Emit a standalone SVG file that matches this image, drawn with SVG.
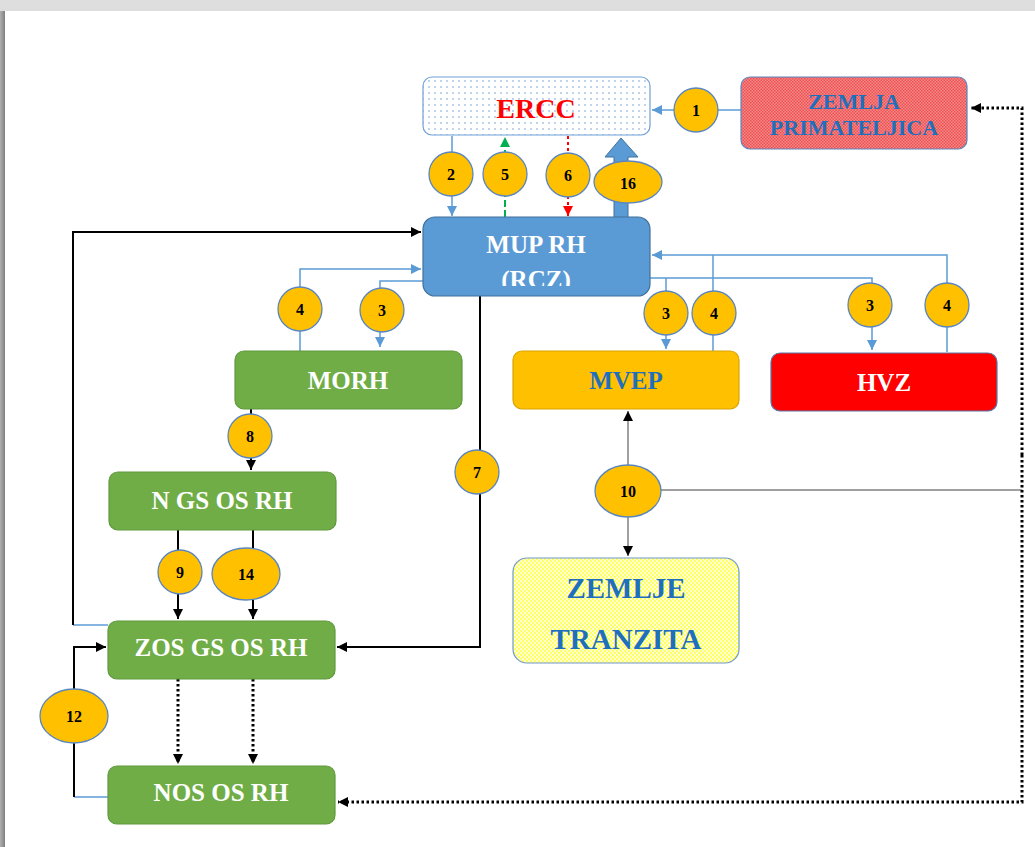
<svg xmlns="http://www.w3.org/2000/svg" width="1035" height="847" viewBox="0 0 1035 847">
<defs>
<linearGradient id="gTop" x1="0" y1="0" x2="0" y2="1"><stop offset="0" stop-color="#dedede"/><stop offset="1" stop-color="#959595"/></linearGradient>
<linearGradient id="gLeft" x1="0" y1="0" x2="1" y2="0"><stop offset="0" stop-color="#b0b0b0"/><stop offset="1" stop-color="#808080"/></linearGradient>
<pattern id="pDots" width="6" height="6" patternUnits="userSpaceOnUse"><rect width="6" height="6" fill="#ffffff"/><circle cx="3" cy="3" r="0.8" fill="#6fa0d8"/></pattern>
<pattern id="pRed" width="3" height="3" patternUnits="userSpaceOnUse"><rect width="3" height="3" fill="#f38a8a"/><rect width="1.5" height="1.5" fill="#f05050"/><rect x="1.5" y="1.5" width="1.5" height="1.5" fill="#f05050"/></pattern>
<pattern id="pYel" width="4" height="4" patternUnits="userSpaceOnUse"><rect width="4" height="4" fill="#ffff66"/><rect width="2" height="2" fill="#ffffd0"/><rect x="2" y="2" width="2" height="2" fill="#ffffd0"/></pattern>
<clipPath id="cMup"><rect x="423" y="217" width="227" height="69"/></clipPath>
<marker id="aBlue" markerUnits="userSpaceOnUse" markerWidth="12" markerHeight="12" refX="10" refY="5" orient="auto"><path d="M0,0 L10,5 L0,10 Z" fill="#5b9bd5"/></marker>
<marker id="aBlack" markerUnits="userSpaceOnUse" markerWidth="12" markerHeight="12" refX="10" refY="5" orient="auto"><path d="M0,0 L10,5 L0,10 Z" fill="#000000"/></marker>
<marker id="aGreen" markerUnits="userSpaceOnUse" markerWidth="12" markerHeight="12" refX="10" refY="5" orient="auto"><path d="M0,0 L10,5 L0,10 Z" fill="#00b050"/></marker>
<marker id="aRed" markerUnits="userSpaceOnUse" markerWidth="12" markerHeight="12" refX="10" refY="5" orient="auto"><path d="M0,0 L10,5 L0,10 Z" fill="#ff0000"/></marker>
</defs>
<style>
.box{stroke-width:1.2}
.t{font-family:"Liberation Serif","Times New Roman",serif;font-weight:bold;text-anchor:middle}
.w{fill:#ffffff;font-size:25px}
.b{fill:#1f6fbf}
.num{font-family:"Liberation Serif","Times New Roman",serif;font-weight:bold;font-size:16px;text-anchor:middle;fill:#000}
.c{fill:#ffc000;stroke:#5a86c0;stroke-width:1.3}
.lb{fill:none;stroke:#5b9bd5;stroke-width:1.5}
.lk{fill:none;stroke:#000;stroke-width:2}
.ld{fill:none;stroke:#000;stroke-width:3;stroke-dasharray:2.5 2.5}
.lg{fill:none;stroke:#808080;stroke-width:1.5}
</style>
<rect width="1035" height="847" fill="url(#gTop)"/>
<rect x="0" y="11" width="5" height="836" fill="url(#gLeft)"/>
<rect x="5" y="11" width="1030" height="836" fill="#ffffff"/>

<g id="connectors">
<line class="lb" x1="741" y1="110" x2="652" y2="110" marker-end="url(#aBlue)"/>
<line class="lb" x1="452" y1="136" x2="452" y2="216" marker-end="url(#aBlue)"/>
<line x1="505" y1="217" x2="505" y2="137" stroke="#00b050" stroke-width="2" stroke-dasharray="7 3" marker-end="url(#aGreen)"/>
<line x1="568" y1="136" x2="568" y2="216" stroke="#ff0000" stroke-width="2" stroke-dasharray="3 3" marker-end="url(#aRed)"/>
<polygon points="614,218 614,157 605,157 621,138 638,157 628,157 628,218" fill="#5b9bd5" stroke="#41719c" stroke-width="1"/>
<polyline class="lb" points="300,351 300,269 421,269" marker-end="url(#aBlue)"/>
<polyline class="lb" points="423,281 380,281 380,347" marker-end="url(#aBlue)"/>
<polyline class="lb" points="947,352 947,255 652,255" marker-end="url(#aBlue)"/>
<line class="lb" x1="713" y1="351" x2="713" y2="255"/>
<polyline class="lb" points="649,278 872,278 872,350" marker-end="url(#aBlue)"/>
<line class="lb" x1="666" y1="278" x2="666" y2="349" marker-end="url(#aBlue)"/>
<line class="lk" x1="251" y1="409" x2="251" y2="470" marker-end="url(#aBlack)"/>
<polyline class="lk" points="480,296 480,647 337,647" marker-end="url(#aBlack)"/>
<line class="lk" x1="178" y1="530" x2="178" y2="619" marker-end="url(#aBlack)"/>
<line class="lk" x1="253" y1="530" x2="253" y2="619" marker-end="url(#aBlack)"/>
<line class="lb" x1="108" y1="625" x2="73" y2="625"/>
<polyline class="lk" points="73,625 73,232 421,232" marker-end="url(#aBlack)"/>
<line class="lb" x1="108" y1="797" x2="74" y2="797"/>
<polyline class="lk" points="74,797 74,647 106,647" marker-end="url(#aBlack)"/>
<line class="ld" x1="178" y1="679" x2="178" y2="764" marker-end="url(#aBlack)"/>
<line class="ld" x1="253" y1="679" x2="253" y2="764" marker-end="url(#aBlack)"/>
<line class="lg" x1="628" y1="490" x2="628" y2="411" marker-end="url(#aBlack)"/>
<line class="lg" x1="628" y1="490" x2="628" y2="556" marker-end="url(#aBlack)"/>
<line class="lg" x1="660" y1="490" x2="1022" y2="490"/>
<polyline class="ld" points="1022,455 1022,108 971,108" marker-end="url(#aBlack)"/>
<polyline class="ld" points="1022,455 1022,802 338,802" marker-end="url(#aBlack)"/>
</g>

<g id="ercc"><rect class="box" x="423" y="77" width="227" height="58" rx="9" fill="url(#pDots)" stroke="#6fa0d8"/><text class="t" x="536" y="118" font-size="28" fill="#ff0000">ERCC</text></g>
<g id="zemlja-primateljica"><rect class="box" x="741" y="77" width="226" height="72" rx="9" fill="url(#pRed)" stroke="#5a86c0"/><text class="t b" x="854" y="109" font-size="22">ZEMLJA</text><text class="t b" x="854" y="135" font-size="22">PRIMATELJICA</text></g>
<g id="mup-rh"><rect class="box" x="423" y="217" width="227" height="79" rx="12" fill="#5b9bd5" stroke="#41719c"/><text class="t w" x="536" y="253">MUP RH</text><text class="t w" x="536" y="288" clip-path="url(#cMup)">(RCZ)</text></g>
<g id="morh"><rect class="box" x="235" y="351" width="227" height="58" rx="9" fill="#70ad47" stroke="#5f9a3c"/><text class="t w" x="348" y="389">MORH</text></g>
<g id="mvep"><rect class="box" x="513" y="351" width="226" height="58" rx="9" fill="#ffc000" stroke="#d9a300"/><text class="t b" x="626" y="389" font-size="25">MVEP</text></g>
<g id="hvz"><rect class="box" x="771" y="353" width="226" height="58" rx="9" fill="#ff0000" stroke="#5a76a8"/><text class="t w" x="884" y="391">HVZ</text></g>
<g id="n-gs-os-rh"><rect class="box" x="109" y="472" width="227" height="58" rx="9" fill="#70ad47" stroke="#5f9a3c"/><text class="t w" x="222" y="509">N GS OS RH</text></g>
<g id="zos-gs-os-rh"><rect class="box" x="108" y="621" width="227" height="58" rx="9" fill="#70ad47" stroke="#5f9a3c"/><text class="t w" x="221" y="656">ZOS GS OS RH</text></g>
<g id="nos-os-rh"><rect class="box" x="108" y="766" width="227" height="58" rx="9" fill="#70ad47" stroke="#5f9a3c"/><text class="t w" x="221" y="801">NOS OS RH</text></g>
<g id="zemlje-tranzita"><rect class="box" x="513" y="558" width="226" height="105" rx="14" fill="url(#pYel)" stroke="#6f98c8"/><text class="t b" x="626" y="598" font-size="29">ZEMLJE</text><text class="t b" x="626" y="649" font-size="29">TRANZITA</text></g>

<g id="labels">
<g id="l1"><circle class="c" cx="696" cy="110" r="22"/><text class="num" x="696" y="116">1</text></g>
<g id="l2"><circle class="c" cx="451" cy="174" r="22"/><text class="num" x="451" y="180">2</text></g>
<g id="l5"><circle class="c" cx="505" cy="174" r="22"/><text class="num" x="505" y="180">5</text></g>
<g id="l6"><circle class="c" cx="568" cy="175" r="22"/><text class="num" x="568" y="181">6</text></g>
<g id="l16"><ellipse class="c" cx="628" cy="182" rx="34" ry="21"/><text class="num" x="628" y="189" font-size="18">16</text></g>
<g id="l4a"><circle class="c" cx="300" cy="309" r="22"/><text class="num" x="300" y="315">4</text></g>
<g id="l3a"><circle class="c" cx="382" cy="310" r="22"/><text class="num" x="382" y="316">3</text></g>
<g id="l3b"><circle class="c" cx="666" cy="313" r="22"/><text class="num" x="666" y="319">3</text></g>
<g id="l4b"><circle class="c" cx="714" cy="313" r="22"/><text class="num" x="714" y="319">4</text></g>
<g id="l3c"><circle class="c" cx="870" cy="305" r="22"/><text class="num" x="870" y="311">3</text></g>
<g id="l4c"><circle class="c" cx="947" cy="305" r="22"/><text class="num" x="947" y="311">4</text></g>
<g id="l8"><circle class="c" cx="250" cy="436" r="22"/><text class="num" x="250" y="442">8</text></g>
<g id="l7"><circle class="c" cx="477" cy="472" r="22"/><text class="num" x="477" y="478">7</text></g>
<g id="l9"><ellipse class="c" cx="180" cy="572" rx="22" ry="22"/><text class="num" x="180" y="578">9</text></g>
<g id="l14"><ellipse class="c" cx="246" cy="574" rx="34" ry="26"/><text class="num" x="246" y="580">14</text></g>
<g id="l12"><ellipse class="c" cx="74" cy="716" rx="34" ry="27"/><text class="num" x="74" y="722">12</text></g>
<g id="l10"><ellipse class="c" cx="628" cy="491" rx="33" ry="26"/><text class="num" x="628" y="497">10</text></g>
</g>
</svg>
